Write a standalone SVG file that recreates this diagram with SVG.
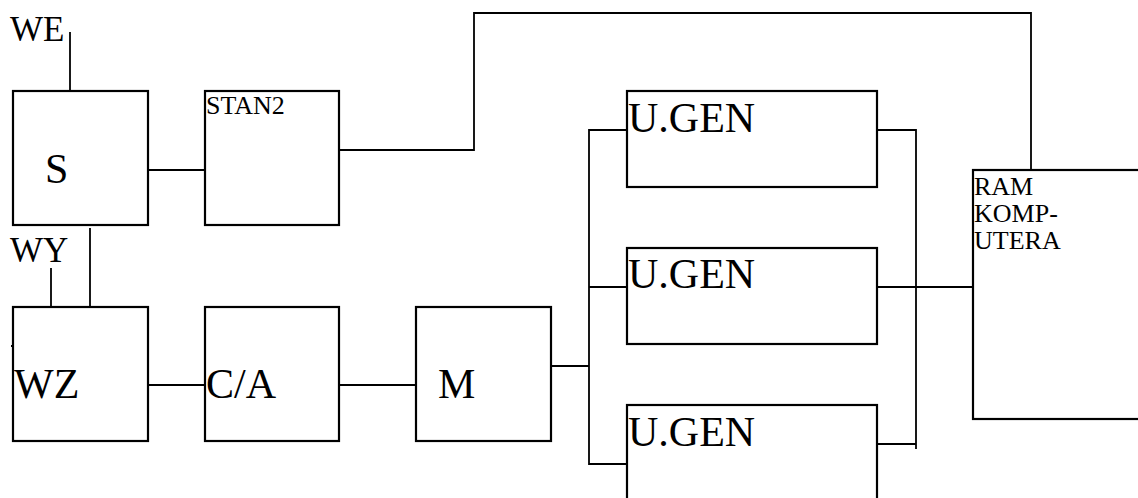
<svg xmlns="http://www.w3.org/2000/svg" width="1138" height="498" viewBox="0 0 1138 498">
<style>
.box{fill:none;stroke:#000;stroke-width:2.2}
.ln{fill:none;stroke:#000;stroke-width:1.8}
text{font-family:'Liberation Serif','DejaVu Serif',serif;fill:#000}
.big{font-size:42px}
.mid{font-size:35px}
.sm{font-size:26px}
</style>
<rect width="1138" height="498" fill="#fff"/>
<g id="connectors">
<path class="ln" d="M70,32 V91"/>
<path class="ln" d="M148,170 H205"/>
<path class="ln" d="M339,150 H474 V13 H1031 V170"/>
<path class="ln" d="M90,228 V307"/>
<path class="ln" d="M51,268 V307"/>
<path class="ln" d="M11,346 H13"/>
<path class="ln" d="M148,385 H205"/>
<path class="ln" d="M339,385 H416"/>
<path class="ln" d="M551,366 H589"/>
<path class="ln" d="M627,130 H589 V464 H627"/>
<path class="ln" d="M589,287 H627"/>
<path class="ln" d="M877,130 H916 V449"/>
<path class="ln" d="M877,287 H973"/>
<path class="ln" d="M877,444 H916"/>
</g>
<g id="we"><text class="mid" x="10" y="41">WE</text></g>
<g id="s"><rect class="box" x="13" y="91" width="135" height="134"/><text class="big" x="45" y="183">S</text></g>
<g id="stan2"><rect class="box" x="205" y="91" width="134" height="134"/><text class="sm" x="206" y="114">STAN2</text></g>
<g id="wy"><text class="mid" x="10" y="262">WY</text></g>
<g id="wz"><rect class="box" x="13" y="307" width="135" height="134"/><text class="big" x="14" y="398">WZ</text></g>
<g id="ca"><rect class="box" x="205" y="307" width="134" height="134"/><text class="big" x="206" y="398">C/A</text></g>
<g id="m"><rect class="box" x="416" y="307" width="135" height="134"/><text class="big" x="438" y="398">M</text></g>
<g id="ugen1"><rect class="box" x="627" y="91" width="250" height="96"/><text class="big" x="628" y="132">U.GEN</text></g>
<g id="ugen2"><rect class="box" x="627" y="248" width="250" height="96"/><text class="big" x="628" y="288">U.GEN</text></g>
<g id="ugen3"><rect class="box" x="627" y="405" width="250" height="120"/><text class="big" x="628" y="446">U.GEN</text></g>
<g id="ram"><rect class="box" x="973" y="170" width="200" height="249"/><text class="sm" x="974" y="195">RAM</text><text class="sm" x="974" y="222">KOMP-</text><text class="sm" x="974" y="249">UTERA</text></g>
</svg>
